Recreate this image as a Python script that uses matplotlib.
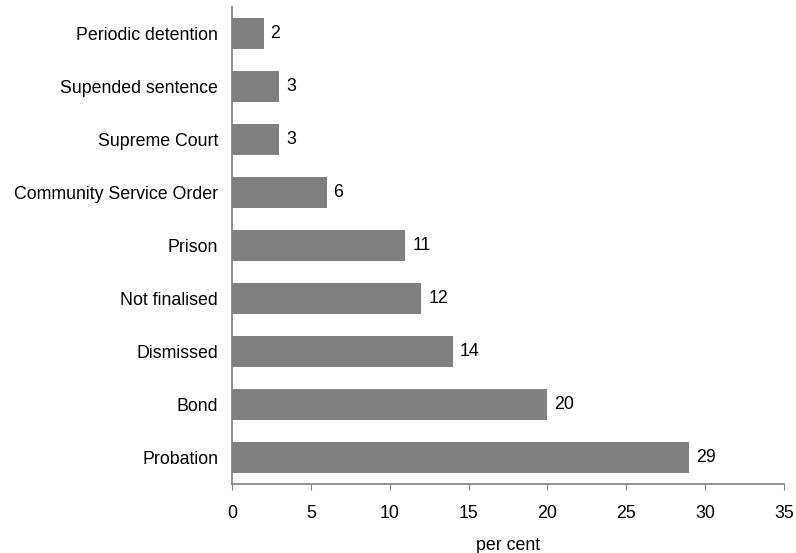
import matplotlib
matplotlib.use("Agg")
from matplotlib import pyplot as plt

categories = ["Probation", "Bond", "Dismissed", "Not finalised", "Prison",
              "Community Service Order", "Supreme Court", "Supended sentence",
              "Periodic detention"]
values = [29, 20, 14, 12, 11, 6, 3, 3, 2]
x_ticks = [0, 5, 10, 15, 20, 25, 30, 35]

plt.rcParams['font.family'] = ['Liberation Sans', 'DejaVu Sans']
plt.rcParams['font.size'] = 12.8

fig = plt.figure(figsize=(7.96, 5.53), dpi=100)
ax = fig.add_axes([232/796, 1 - 484/553, (784 - 232)/796, (484 - 7)/553])

pos = range(len(categories))
bars = ax.barh(pos, values, height=0.57, color='#808080')
for p, v in zip(pos, values):
    ax.annotate(str(v), (v, p), xytext=(5, 0), textcoords='offset points',
                va='center', ha='left')

ax.set_yticks(list(pos))
ax.set_yticklabels(categories)
ax.set_ylim(-0.5, len(categories) - 0.5)
ax.set_xlim(0, 35)
ax.set_xticks(x_ticks)
ax.set_xlabel("per cent", labelpad=11)

for s in ['top', 'right']:
    ax.spines[s].set_visible(False)
for s in ['left', 'bottom']:
    ax.spines[s].set_color('#808080')
    ax.spines[s].set_linewidth(1.2)
ax.tick_params(axis='y', length=0, pad=10)
ax.tick_params(axis='x', length=4, color='#808080', pad=11)

fig.savefig("out.png", dpi=100)
